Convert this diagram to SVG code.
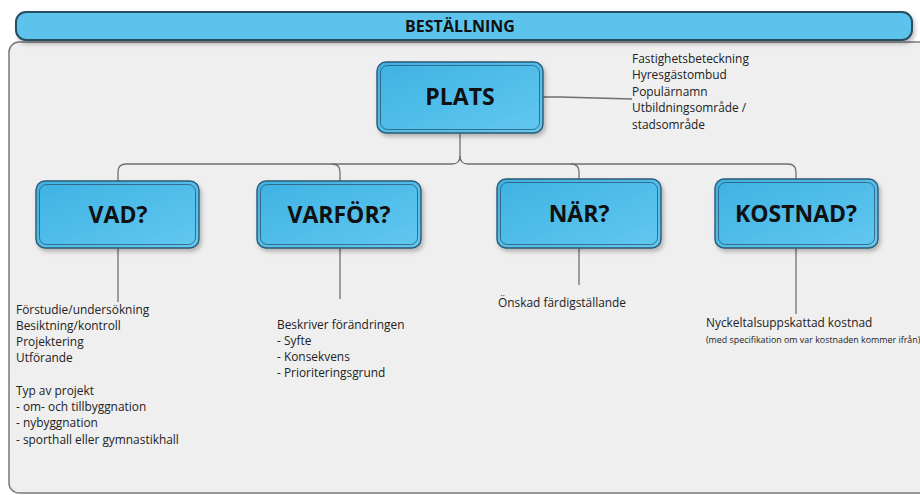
<svg xmlns="http://www.w3.org/2000/svg" width="920" height="495" viewBox="0 0 920 495">
<defs>
<linearGradient id="g" x1="0" y1="0" x2="1" y2="1">
<stop offset="0" stop-color="#3eb2e3"/>
<stop offset="1" stop-color="#62c8f0"/>
</linearGradient>
<filter id="sh" x="-10%" y="-10%" width="130%" height="140%">
<feDropShadow dx="2" dy="3" stdDeviation="2" flood-color="#000" flood-opacity="0.25"/>
</filter>
<style>
.box{fill:url(#g);stroke:#2d5873;stroke-width:1.4}
.inner{fill:none;stroke:#2d5873;stroke-width:0.8}
.h{font-family:"Open Sans","Noto Sans",sans-serif;font-weight:bold;fill:#111;text-anchor:middle}
.t{font-family:"Open Sans","Noto Sans",sans-serif;font-size:11.9px;fill:#222}
.s{font-family:"Open Sans","Noto Sans",sans-serif;font-size:8.9px;fill:#222}
.c{fill:none;stroke:#6f6f6f;stroke-width:1.3}
</style>
</defs>
<rect width="920" height="495" fill="#fff"/>
<g id="panel">
<rect x="9" y="42" width="930" height="451" rx="10" fill="#efefef" stroke="#7a7a7a" stroke-width="1.5"/>
</g>
<g id="header">
<rect x="16" y="12" width="896" height="28" rx="10" fill="#5bc4ec" stroke="#2a4d62" stroke-width="2" filter="url(#sh)"/>
<text class="h" x="460" y="32" font-size="16">BESTÄLLNING</text>
</g>
<g id="connectors">
<path class="c" d="M460,133 V156 Q460,164 452,164 H126 Q118,164 118,172 V181"/>
<path class="c" d="M460,156 Q460,164 468,164 H788 Q796,164 796,172 V179"/>
<path class="c" d="M332,164 Q340,164 340,172 V181"/>
<path class="c" d="M571,164 Q579,164 579,172 V179"/>
<path class="c" d="M543,97 H560 L632,99"/>
<path class="c" d="M118,248 V302"/>
<path class="c" d="M340,248 V299"/>
<path class="c" d="M579,248 V285"/>
<path class="c" d="M796,248 V314"/>
</g>
<g id="plats">
<rect class="box" x="377" y="62" width="166" height="71" rx="9" filter="url(#sh)"/>
<rect class="inner" x="380.5" y="65.5" width="159" height="64" rx="7"/>
<text class="h" x="460" y="105" font-size="23">PLATS</text>
</g>
<g id="plats-info">
<text class="t" x="632" y="63">Fastighetsbeteckning</text>
<text class="t" x="632" y="79">Hyresgästombud</text>
<text class="t" x="632" y="96">Populärnamn</text>
<text class="t" x="632" y="112">Utbildningsområde /</text>
<text class="t" x="632" y="129">stadsområde</text>
</g>
<g id="vad">
<rect class="box" x="36" y="181" width="163" height="67" rx="9" filter="url(#sh)"/>
<rect class="inner" x="39.5" y="184.5" width="156" height="60" rx="7"/>
<text class="h" x="118" y="223" font-size="23">VAD?</text>
</g>
<g id="varfor">
<rect class="box" x="257" y="181" width="164" height="67" rx="9" filter="url(#sh)"/>
<rect class="inner" x="260.5" y="184.5" width="157" height="60" rx="7"/>
<text class="h" x="339" y="223" font-size="23">VARFÖR?</text>
</g>
<g id="nar">
<rect class="box" x="497" y="179" width="164" height="69" rx="9" filter="url(#sh)"/>
<rect class="inner" x="500.5" y="182.5" width="157" height="62" rx="7"/>
<text class="h" x="579" y="222" font-size="23">NÄR?</text>
</g>
<g id="kostnad">
<rect class="box" x="715" y="179" width="163" height="69" rx="9" filter="url(#sh)"/>
<rect class="inner" x="718.5" y="182.5" width="156" height="62" rx="7"/>
<text class="h" x="796" y="222" font-size="23">KOSTNAD?</text>
</g>
<g id="vad-info">
<text class="t" x="16" y="314">Förstudie/undersökning</text>
<text class="t" x="16" y="330">Besiktning/kontroll</text>
<text class="t" x="16" y="346">Projektering</text>
<text class="t" x="16" y="362">Utförande</text>
<text class="t" x="16" y="395">Typ av projekt</text>
<text class="t" x="16" y="411">- om- och tillbyggnation</text>
<text class="t" x="16" y="427">- nybyggnation</text>
<text class="t" x="16" y="444">- sporthall eller gymnastikhall</text>
</g>
<g id="varfor-info">
<text class="t" x="277" y="329">Beskriver förändringen</text>
<text class="t" x="277" y="345">- Syfte</text>
<text class="t" x="277" y="361">- Konsekvens</text>
<text class="t" x="277" y="377">- Prioriteringsgrund</text>
</g>
<g id="nar-info">
<text class="t" x="498" y="307">Önskad färdigställande</text>
</g>
<g id="kostnad-info">
<text class="t" x="706" y="327">Nyckeltalsuppskattad kostnad</text>
<text class="s" x="706" y="343">(med specifikation om var kostnaden kommer ifrån)</text>
</g>
</svg>
